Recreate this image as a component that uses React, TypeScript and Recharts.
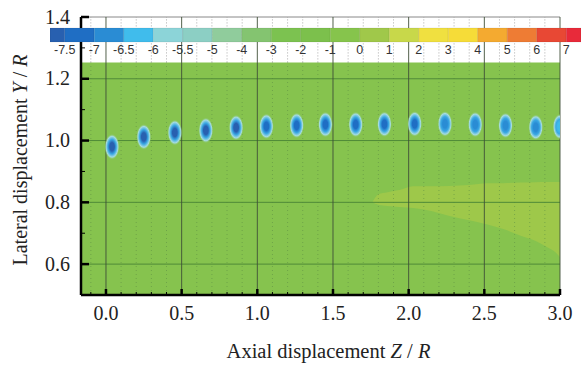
import React from 'react';
import {
  ComposedChart,
  BarChart,
  Bar,
  Area,
  Scatter,
  XAxis,
  YAxis,
  ReferenceArea,
  ReferenceLine,
  Label,
} from 'recharts';

// colour bar levels and cell colours (cell i lies between level i-1 and level i)
const levelLabels = ['-7.5', '-7', '-6.5', '-6', '-5.5', '-5', '-4', '-3', '-2', '-1', '0', '1', '2', '3', '4', '5', '6', '7'];
const levelValues = [-7.5, -7, -6.5, -6, -5.5, -5, -4, -3, -2, -1, 0, 1, 2, 3, 4, 5, 6, 7];
const cellColors = [
  '#2860b0', '#1f6ec4', '#2a8cd4', '#40bcec', '#8cd4d8', '#8ccfc4', '#90cc9c', '#84c470', '#7cc250',
  '#7cc04c', '#86c44c', '#a0c84a', '#c8d84a', '#f0e040', '#f6dc38', '#f4aa30', '#ee7c34', '#e84834', '#e82a3a',
];

// vortex cores along the wake
const blobZ = [0.04, 0.25, 0.455, 0.66, 0.86, 1.06, 1.26, 1.45, 1.65, 1.84, 2.04, 2.24, 2.44, 2.64, 2.84, 3.0];
const blobY = [0.98, 1.012, 1.026, 1.033, 1.042, 1.046, 1.049, 1.052, 1.052, 1.053, 1.054, 1.054, 1.052, 1.049, 1.043, 1.045];
const blobPeak = [-7.6, -7.8, -7.8, -7.6, -7.6, -7.4, -7.4, -7.3, -7.3, -7.2, -7.1, -6.9, -6.9, -6.7, -6.6, -6.2];

// lighter (slightly positive) region in the lower right
const bandZ = [1.76, 1.8, 1.86, 1.94, 2.03, 2.15, 2.27, 2.4, 2.52, 2.63, 2.74, 2.84, 2.91, 2.97, 3.0];
const bandHigh = [0.8, 0.826, 0.833, 0.84, 0.852, 0.852, 0.853, 0.856, 0.862, 0.862, 0.864, 0.865, 0.866, 0.866, 0.866];
const bandLow = [0.8, 0.792, 0.788, 0.785, 0.782, 0.772, 0.756, 0.742, 0.728, 0.713, 0.692, 0.675, 0.656, 0.638, 0.622];

const xMajorTicks = [0, 0.5, 1, 1.5, 2, 2.5, 3];
const xMinorTicks = [-0.1, 0.1, 0.2, 0.3, 0.4, 0.6, 0.7, 0.8, 0.9, 1.1, 1.2, 1.3, 1.4, 1.6, 1.7, 1.8, 1.9, 2.1, 2.2, 2.3, 2.4, 2.6, 2.7, 2.8, 2.9];
const yMajorTicks = [0.6, 0.8, 1.0, 1.2, 1.4];
const yMinorTicks = [0.7, 0.9, 1.1, 1.3];

const X_MIN = -0.165;
const X_MAX = 3.0;
const FIELD_TOP = 1.253;
const GREEN = '#86c34e';
const SERIF = '"Liberation Serif", "Times New Roman", serif';

const blobs = blobZ.map((z, i) => ({ id: i, z, y: blobY[i], peak: blobPeak[i] }));
const band = bandZ.map((z, i) => ({ z, y: [bandLow[i], bandHigh[i]] }));

// one stacked row: end cells are half width, the rest one unit
const barRow: Record<string, any> = { name: 'bar' };
cellColors.forEach((_, i) => {
  barRow[`c${i}`] = i === 0 || i === cellColors.length - 1 ? 0.5 : 1;
});
const barTicks = levelValues.map((_, k) => k + 0.5);

const colorFor = (v: number) => cellColors[levelValues.filter((l) => l <= v).length];

const BlobShape = (props: any) => {
  const { cx, cy, payload } = props;
  const id = `blob-${payload.id}`;
  const core = colorFor(payload.peak);
  return (
    <g>
      <defs>
        <radialGradient id={id} cx='50%' cy='50%' r='50%'>
          <stop offset='0' stopColor={core} />
          <stop offset='0.32' stopColor={core} />
          <stop offset='0.56' stopColor='#3aa8e4' />
          <stop offset='0.8' stopColor='#a6dce0' />
          <stop offset='1' stopColor={GREEN} stopOpacity={0} />
        </radialGradient>
      </defs>
      <ellipse cx={cx} cy={cy} rx={7.5} ry={13} fill={`url(#${id})`} />
    </g>
  );
};

const XTick = (props: any) => {
  const { x, y, payload } = props;
  const major = xMajorTicks.includes(payload.value);
  return (
    <g>
      <line x1={x} x2={x} y1={y} y2={y - (major ? 6 : 3)} stroke='#000' strokeWidth={major ? 2.5 : 1} />
      {major && (
        <text x={x} y={y + 25} textAnchor='middle' fontSize={20} fontFamily={SERIF} fill='#222'>
          {payload.value.toFixed(1)}
        </text>
      )}
    </g>
  );
};

const YTick = (props: any) => {
  const { x, y, payload } = props;
  const major = yMajorTicks.includes(payload.value);
  return (
    <g>
      <line x1={x} x2={x + (major ? 8 : 4)} y1={y} y2={y} stroke='#000' strokeWidth={major ? 2.5 : 1} />
      {major && (
        <text x={x - 11} y={y + 6.5} textAnchor='end' fontSize={20} fontFamily={SERIF} fill='#222'>
          {payload.value.toFixed(1)}
        </text>
      )}
    </g>
  );
};

const BarTick = (props: any) => {
  const { x, y, payload } = props;
  return (
    <text x={x} y={y + 10.5} textAnchor='middle' fontSize={12.5} fontFamily='"Liberation Sans", Arial, sans-serif' fill='#333'>
      {levelLabels[Math.round(payload.value - 0.5)]}
    </text>
  );
};

export default function App() {
  return (
    <div style={{ position: 'absolute', left: 0, top: 0, width: 588, height: 367, background: '#fff' }}>
      <div style={{ position: 'absolute', left: 0, top: 0 }}>
        <ComposedChart width={588} height={367} data={band} margin={{ top: 17, right: 28, left: 21, bottom: 42 }}>
          <ReferenceArea x1={X_MIN} x2={X_MAX} y1={0.5} y2={FIELD_TOP} fill={GREEN} fillOpacity={1} stroke='none' />
          <Area
            dataKey='y'
            type='monotone'
            fill='#9ec84a'
            fillOpacity={1}
            stroke='none'
            isAnimationActive={false}
          />
          <Scatter data={blobs} shape={<BlobShape />} isAnimationActive={false} />
          {xMinorTicks.map((t) => (
            <ReferenceLine
              key={`mg${t}`}
              segment={[{ x: t, y: 0.5 }, { x: t, y: FIELD_TOP }]}
              stroke='#5f8f45'
              strokeDasharray='1 3'
              strokeOpacity={0.6}
            />
          ))}
          {xMinorTicks.map((t) => (
            <ReferenceLine
              key={`mw${t}`}
              segment={[{ x: t, y: FIELD_TOP }, { x: t, y: 1.4 }]}
              stroke='#aaa'
              strokeDasharray='1 2'
            />
          ))}
          {[0.6, 0.8, 1.0, 1.2].map((t) => (
            <ReferenceLine key={`h${t}`} y={t} stroke='#4f8a38' strokeWidth={1} />
          ))}
          <ReferenceLine y={1.4} stroke='#888' />
          {xMajorTicks.map((t) => (
            <ReferenceLine key={`v${t}`} x={t} stroke='#3f4f38' strokeWidth={0.9} />
          ))}
          <XAxis
            type='number'
            dataKey='z'
            domain={[X_MIN, X_MAX]}
            allowDataOverflow
            ticks={[...xMajorTicks, ...xMinorTicks]}
            interval={0}
            tick={<XTick />}
            tickSize={0}
            tickMargin={0}
            tickLine={false}
            height={30}
            axisLine={{ stroke: '#000', strokeWidth: 2.5 }}
          >
            <Label
              content={(p: any) => {
                const vb = p.viewBox;
                return (
                  <text x={vb.x + vb.width / 2 + 8} y={vb.y + 63} textAnchor='middle' fontSize={20.5} fontFamily={SERIF} fill='#222'>
                    Axial displacement <tspan fontStyle='italic'>Z</tspan> / <tspan fontStyle='italic'>R</tspan>
                  </text>
                );
              }}
            />
          </XAxis>
          <YAxis
            type='number'
            dataKey='y'
            domain={[0.5, 1.4]}
            allowDataOverflow
            ticks={[...yMajorTicks, ...yMinorTicks]}
            interval={0}
            tick={<YTick />}
            tickSize={0}
            tickMargin={0}
            tickLine={false}
            width={60}
            axisLine={{ stroke: '#000', strokeWidth: 2.5 }}
          >
            <Label
              content={(p: any) => {
                const vb = p.viewBox;
                const cx = vb.x + 6;
                const cy = vb.y + vb.height / 2 + 4;
                return (
                  <text x={cx} y={cy} transform={`rotate(-90, ${cx}, ${cy})`} textAnchor='middle' fontSize={20} fontFamily={SERIF} fill='#222'>
                    Lateral displacement <tspan fontStyle='italic'>Y</tspan> / <tspan fontStyle='italic'>R</tspan>
                  </text>
                );
              }}
            />
          </YAxis>
        </ComposedChart>
      </div>
      <div style={{ position: 'absolute', left: 0, top: 0 }}>
        <BarChart
          width={588}
          height={64}
          data={[barRow]}
          layout='vertical'
          barCategoryGap={0}
          barGap={0}
          margin={{ top: 27, right: 7, left: 50, bottom: 0 }}
        >
          <XAxis
            type='number'
            domain={[0, 18]}
            allowDataOverflow
            ticks={barTicks}
            interval={0}
            tick={<BarTick />}
            tickSize={0}
            tickMargin={0}
            axisLine={false}
            tickLine={false}
            height={21}
          />
          <YAxis type='category' dataKey='name' hide />
          {cellColors.map((c, i) => (
            <Bar
              key={i}
              dataKey={`c${i}`}
              stackId='bar'
              barSize={14}
              fill={c}
              stroke='rgba(0,0,0,0.12)'
              strokeWidth={0.6}
              isAnimationActive={false}
            />
          ))}
        </BarChart>
      </div>
    </div>
  );
}
